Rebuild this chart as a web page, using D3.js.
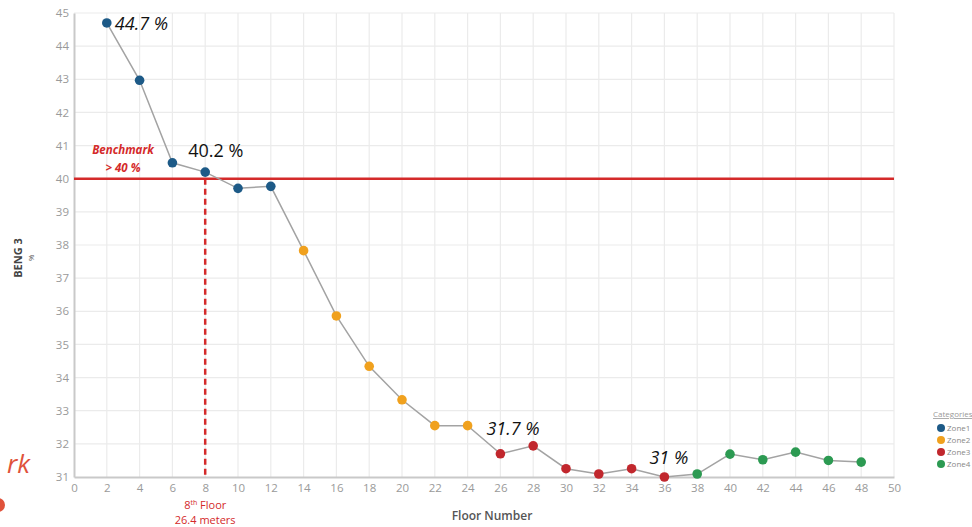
<!DOCTYPE html>
<html>
<head>
<meta charset="utf-8">
<script src="https://cdn.jsdelivr.net/npm/d3@7"></script>
<style>
  html, body { margin: 0; padding: 0; background: #fff; overflow: hidden; }
  svg { display: block; }
</style>
</head>
<body>
<svg id="chart" width="972" height="527"></svg>
<script>
// Floor numbers and BENG 3 share (%) for each zone
const zoneNames = ["Zone1", "Zone2", "Zone3", "Zone4"];
const zoneColors = ["#1d5a87", "#f0a11e", "#c1272d", "#2c9a52"];
const zone1Floors = [2, 4, 6, 8, 10, 12];
const zone1Values = [44.7, 42.97, 40.48, 40.2, 39.71, 39.77];
const zone2Floors = [14, 16, 18, 20, 22, 24];
const zone2Values = [37.83, 35.86, 34.34, 33.33, 32.55, 32.55];
const zone3Floors = [26, 28, 30, 32, 34, 36];
const zone3Values = [31.7, 31.94, 31.25, 31.09, 31.25, 31.0];
const zone4Floors = [38, 40, 42, 44, 46, 48];
const zone4Values = [31.09, 31.69, 31.52, 31.75, 31.5, 31.45];

const xTicks = d3.range(0, 51, 2);
const yTicks = d3.range(31, 46, 1);
const benchmark = 40;
const benchmarkFloor = 8;
// value labels: floor, italic
const labelFloors = [2, 8, 26, 36];
const labelItalic = [true, false, true, true];

const zoneFloors = [zone1Floors, zone2Floors, zone3Floors, zone4Floors];
const zoneValues = [zone1Values, zone2Values, zone3Values, zone4Values];
const points = [];
zoneFloors.forEach((fl, z) => fl.forEach((f, i) => points.push({ floor: f, value: zoneValues[z][i], zone: z })));

const svg = d3.select("#chart");
const x = d3.scaleLinear().domain([0, 50]).range([74, 894]);
const y = d3.scaleLinear().domain([31, 45]).range([477, 13]);
const font = "'Open Sans', 'Noto Sans', sans-serif";

// grid
svg.append("g").selectAll("line.v").data(xTicks.slice(1)).join("line")
  .attr("x1", d => x(d)).attr("x2", d => x(d))
  .attr("y1", y(45)).attr("y2", y(31))
  .attr("stroke", "#ebebeb").attr("stroke-width", 1.2);
svg.append("g").selectAll("line.h").data(yTicks.slice(1)).join("line")
  .attr("x1", x(0)).attr("x2", x(50))
  .attr("y1", d => y(d)).attr("y2", d => y(d))
  .attr("stroke", "#ebebeb").attr("stroke-width", 1.2);

// axes
const yAxis = svg.append("g").attr("transform", `translate(${x(0)},0)`)
  .call(d3.axisLeft(y).tickValues(yTicks).tickSize(0).tickPadding(5).tickFormat(d3.format("d")));
const xAxis = svg.append("g").attr("transform", `translate(0,${y(31)})`)
  .call(d3.axisBottom(x).tickValues(xTicks).tickSize(0).tickPadding(7).tickFormat(d3.format("d")));
[yAxis, xAxis].forEach(a => {
  a.select(".domain").attr("stroke", "#c9c9c9").attr("stroke-width", 2);
  a.selectAll("text").attr("fill", "#9a9a9a").style("font-family", font).style("font-size", "11.5px");
});

// benchmark line
svg.append("line")
  .attr("x1", x(0)).attr("x2", x(50))
  .attr("y1", y(benchmark)).attr("y2", y(benchmark))
  .attr("stroke", "#d42a2a").attr("stroke-width", 2.5);
svg.append("line")
  .attr("x1", x(benchmarkFloor)).attr("x2", x(benchmarkFloor))
  .attr("y1", y(benchmark)).attr("y2", y(31))
  .attr("stroke", "#d42a2a").attr("stroke-width", 2.5)
  .attr("stroke-dasharray", "6,4");

// connecting line
svg.append("path")
  .datum(points)
  .attr("fill", "none").attr("stroke", "#a3a3a3").attr("stroke-width", 1.5)
  .attr("d", d3.line().x(d => x(d.floor)).y(d => y(d.value)));

// markers
svg.append("g").selectAll("circle").data(points).join("circle")
  .attr("cx", d => x(d.floor)).attr("cy", d => y(d.value)).attr("r", 4.8)
  .attr("fill", d => zoneColors[d.zone]);

// value labels
const labelOffsets = [[8, 7], [-17, -15], [-14, -19], [-15, -13]];
labelFloors.forEach((f, i) => {
  const p = points.find(d => d.floor === f);
  svg.append("text")
    .attr("x", x(f) + labelOffsets[i][0]).attr("y", y(p.value) + labelOffsets[i][1])
    .attr("fill", "#111").style("font-family", font).style("font-size", "18px")
    .style("font-style", labelItalic[i] ? "italic" : "normal")
    .text(`${p.value} %`);
});

// benchmark caption
const bench = svg.append("text").attr("fill", "#d42a2a").style("font-family", font)
  .style("font-size", "11.5px").style("font-weight", "bold").style("font-style", "italic")
  .attr("text-anchor", "middle");
bench.append("tspan").attr("x", 123).attr("y", 154).text("Benchmark");
bench.append("tspan").attr("x", 123).attr("y", 172).text(`> ${benchmark} %`);

// floor caption
const fc = svg.append("text").attr("fill", "#d42a2a").style("font-family", font)
  .style("font-size", "11px").attr("text-anchor", "middle");
fc.append("tspan").attr("x", x(benchmarkFloor)).attr("y", 509).text("8");
fc.append("tspan").attr("dy", -4).style("font-size", "7px").text("th");
fc.append("tspan").attr("dy", 4).text(" Floor");
svg.append("text").attr("fill", "#d42a2a").style("font-family", font)
  .style("font-size", "11px").attr("text-anchor", "middle")
  .attr("x", x(benchmarkFloor)).attr("y", 524).text("26.4 meters");

// axis titles
svg.append("text").attr("x", 492).attr("y", 520).attr("text-anchor", "middle")
  .attr("fill", "#555").style("font-family", font).style("font-size", "12px").style("font-weight", "600")
  .text("Floor Number");
svg.append("text").attr("transform", "translate(22,258) rotate(-90)").attr("text-anchor", "middle")
  .attr("fill", "#444").style("font-family", font).style("font-size", "11px").style("font-weight", "bold")
  .text("BENG 3");
svg.append("text").attr("transform", "translate(34,258) rotate(-90)").attr("text-anchor", "middle")
  .attr("fill", "#555").style("font-family", font).style("font-size", "8px")
  .text("%");

// legend
const lg = svg.append("g").attr("transform", "translate(933,0)");
lg.append("text").attr("x", 0).attr("y", 417).attr("fill", "#999")
  .style("font-family", font).style("font-size", "8px").style("text-decoration", "underline")
  .text("Categories");
zoneNames.forEach((n, i) => {
  lg.append("circle").attr("cx", 8).attr("cy", 428 + i * 12).attr("r", 4).attr("fill", zoneColors[i]);
  lg.append("text").attr("x", 14).attr("y", 431 + i * 12).attr("fill", "#888")
    .style("font-family", font).style("font-size", "8px").text(n);
});

// side note fragment at the left edge
svg.append("text").attr("x", 30).attr("y", 473).attr("text-anchor", "end")
  .attr("fill", "#e0523b").style("font-family", font).style("font-size", "26px").style("font-style", "italic")
  .text("rk");
svg.append("circle").attr("cx", -2).attr("cy", 505).attr("r", 7).attr("fill", "#e0523b");
</script>
</body>
</html>
